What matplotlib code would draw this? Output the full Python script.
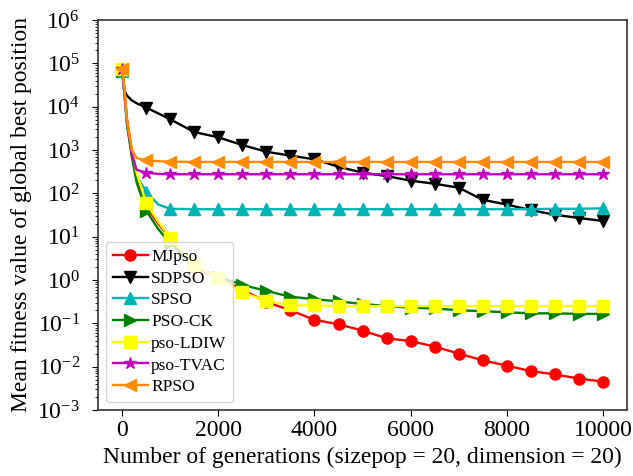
import matplotlib
matplotlib.use("Agg")
import matplotlib.pyplot as plt
import numpy as np

# Generations at which the curves are sampled (markers every 500)
gens = [0, 50, 100, 200, 300, 500, 750, 1000, 1500, 2000, 2500, 3000, 3500, 4000,
        4500, 5000, 5500, 6000, 6500, 7000, 7500, 8000, 8500, 9000, 9500, 10000]

mjpso = [7.2e4, 2e4, 5e3, 1e3, 250, 50, 20, 9, 2.0, 1.1, 0.6, 0.31, 0.20, 0.12,
         0.095, 0.068, 0.045, 0.039, 0.029, 0.020, 0.014, 0.0105, 0.0079, 0.0066, 0.0053, 0.0045]
sdpso = [7.2e4, 2.3e4, 1.8e4, 1.4e4, 1.2e4, 9.5e3, 7e3, 5.1e3, 2.6e3, 1.96e3, 1.3e3, 910, 740, 610,
         410, 300, 250, 196, 166, 135, 71, 55, 41, 32, 27, 23]
spso = [6.5e4, 2e4, 4e3, 800, 250, 110, 55, 44, 43, 43, 43, 43, 43, 43,
        43, 43, 43, 43, 43, 43, 43, 43, 43, 44, 44, 45]
psock = [6.5e4, 1.8e4, 4e3, 700, 180, 40, 15, 7, 2.0, 1.2, 0.77, 0.56, 0.41, 0.36,
         0.32, 0.28, 0.25, 0.23, 0.22, 0.20, 0.19, 0.18, 0.17, 0.17, 0.165, 0.165]
ldiw = [7.5e4, 2.2e4, 5e3, 1e3, 300, 60, 22, 9.5, 2.2, 1.1, 0.52, 0.33, 0.26, 0.26,
        0.25, 0.25, 0.25, 0.25, 0.25, 0.25, 0.25, 0.25, 0.25, 0.25, 0.25, 0.25]
tvac = [7.3e4, 2e4, 5e3, 800, 350, 300, 280, 275, 275, 275, 275, 275, 275, 275,
        275, 275, 275, 275, 275, 275, 275, 275, 275, 275, 275, 275]
rpso = [7.5e4, 2.5e4, 5e3, 1e3, 650, 580, 550, 540, 530, 530, 530, 530, 530, 530,
        530, 530, 530, 530, 530, 530, 530, 530, 530, 530, 530, 530]

labels = ["MJpso", "SDPSO", "SPSO", "PSO-CK", "pso-LDIW", "pso-TVAC", "RPSO"]
series = [mjpso, sdpso, spso, psock, ldiw, tvac, rpso]
colors = ["#ff0000", "#000000", "#00b4b4", "#007f00", "#ffff00", "#bf00bf", "#ff8c00"]
markers = ["o", "v", "^", ">", "s", "*", "<"]
msizes = [8, 8, 8, 8, 8, 9, 8]

plt.rcParams["font.family"] = ["Liberation Serif", "DejaVu Serif"]
plt.rcParams["mathtext.fontset"] = "stix"

fig = plt.figure(figsize=(6.33, 4.76), dpi=100)
ax = fig.add_axes([0.155, 0.1387, 0.8355, 0.8193])

mark_idx = [i for i, g in enumerate(gens) if g % 500 == 0]
for y, lab, c, m, ms in zip(series, labels, colors, markers, msizes):
    ax.plot(gens, y, color=c, marker=m, markersize=ms, linewidth=1.7,
            markevery=mark_idx, label=lab)

ax.set_yscale("log")
ax.set_ylim(1e-3, 1e6)
ax.set_xlim(-500, 10500)
ax.set_xticks([0, 2000, 4000, 6000, 8000, 10000])
ax.tick_params(axis="x", which="major", labelsize=17, direction="out", length=4)
ax.tick_params(axis="y", which="major", labelsize=17, direction="out", length=4, pad=9)
ax.tick_params(axis="y", which="minor", direction="out", length=2)
ax.tick_params(axis="x", which="minor", bottom=False)
for s in ax.spines.values():
    s.set_color("#333333")
    s.set_linewidth(1.2)

ax.set_xlabel("Number of generations (sizepop = 20, dimension = 20)", fontsize=17)
ax.set_ylabel("Mean fitness value of global best position", fontsize=17)

ax.legend(loc="lower left", fontsize=12.5, handlelength=2.0, handletextpad=0.2,
          labelspacing=0.32, borderpad=0.4, borderaxespad=0.45)

fig.savefig("out.png", dpi=100)
